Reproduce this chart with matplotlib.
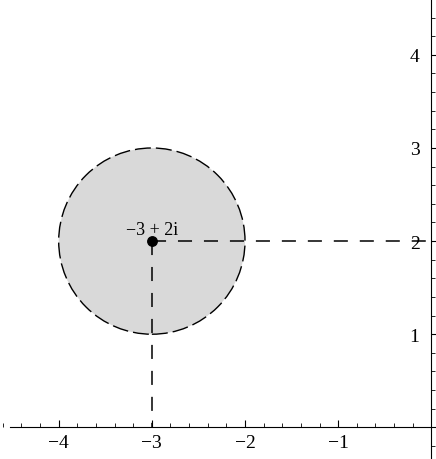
import matplotlib.pyplot as plt
from matplotlib.patches import Circle
from matplotlib.ticker import MultipleLocator

# data
center = (-3, 2)
radius = 1
point_label = '\u22123 + 2i'
xticks = [-4, -3, -2, -1]
yticks = [1, 2, 3, 4]

plt.rcParams['font.family'] = ['Liberation Serif', 'DejaVu Serif']

fig = plt.figure(figsize=(4.36, 4.60), dpi=100)
ax = fig.add_axes([0, 0, 1, 1])
ax.set_xlim(-4.63, 0.05)
ax.set_ylim(-0.34, 4.6)

# disk with dashed edge
disk = Circle(center, radius, facecolor='#d9d9d9', edgecolor='black',
              linestyle=(0, (11.5, 3.6)), linewidth=1.0, zorder=1)
ax.add_patch(disk)

# dashed guide lines
ax.plot([center[0], 0], [center[1], center[1]], color='black', lw=1.1,
        dashes=(9.2, 7.8), zorder=2)
ax.plot([center[0], center[0]], [center[1], 0], color='black', lw=1.1,
        dashes=(9.2, 7.8), zorder=2)

ax.plot(center[0], center[1], 'o', color='black', markersize=6.8, zorder=3)
ax.text(center[0], center[1] + 0.03, point_label, ha='center', va='bottom',
        fontsize=13, zorder=4)

# axes through the origin
for s in ['top', 'right']:
    ax.spines[s].set_visible(False)
ax.spines['left'].set_position(('data', 0))
ax.spines['bottom'].set_position(('data', 0))
ax.spines['left'].set_bounds(-0.34, 4.6)
ax.spines['bottom'].set_bounds(-4.52, 0.05)

ax.set_xticks(xticks)
ax.set_xticklabels(['\u2212%d' % abs(v) for v in xticks])
ax.set_yticks(yticks)
ax.set_yticklabels([str(v) for v in yticks])
ax.xaxis.set_minor_locator(MultipleLocator(0.2))
ax.yaxis.set_minor_locator(MultipleLocator(0.2))
ax.tick_params(axis='both', which='major', direction='in', length=5,
               width=0.8, labelsize=14, pad=5)
ax.tick_params(axis='both', which='minor', direction='in', length=3,
               width=0.6)
ax.tick_params(axis='y', pad=8.5)

fig.savefig('out.png', dpi=100)
